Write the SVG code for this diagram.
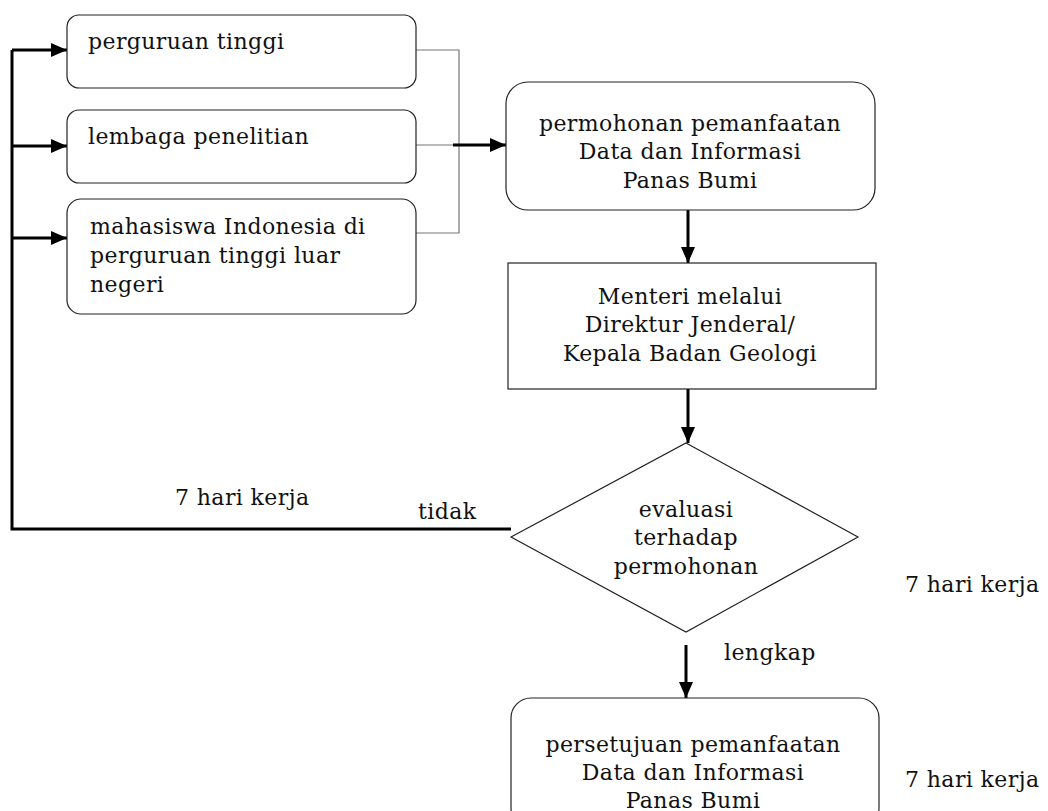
<svg xmlns="http://www.w3.org/2000/svg" width="1048" height="811" viewBox="0 0 1048 811">
<defs>
<marker id="ah" markerWidth="16" markerHeight="14" refX="16" refY="7" orient="auto" markerUnits="userSpaceOnUse">
<path d="M0,0 L16,7 L0,14 Z" fill="#000"/>
</marker>
</defs>
<style>
text{font-family:"DejaVu Serif","Liberation Serif",serif;font-size:22px;letter-spacing:0.4px;fill:#111}
.c{text-anchor:middle}
.box{fill:#fff;stroke:#222;stroke-width:1.2}
.thin{fill:none;stroke:#777;stroke-width:1.2}
.thick{fill:none;stroke:#000;stroke-width:3}
</style>
<rect width="1048" height="811" fill="#fff"/>
<g id="connectors">
<path class="thin" d="M416,50 H459 V233 H416 M416,145 H453"/>
<path class="thick" d="M453,145 H506" marker-end="url(#ah)"/>
<path class="thick" d="M688,210 V263" marker-end="url(#ah)"/>
<path class="thick" d="M688,389 V443" marker-end="url(#ah)"/>
<path class="thick" d="M686,645 V698" marker-end="url(#ah)"/>
<path class="thick" d="M511,529 H12 V50"/>
<path class="thick" d="M12,50 H67" marker-end="url(#ah)"/>
<path class="thick" d="M12,146 H67" marker-end="url(#ah)"/>
<path class="thick" d="M12,238 H67" marker-end="url(#ah)"/>
</g>
<g id="n1"><rect class="box" x="67" y="15" width="349" height="73" rx="12"/><text x="88" y="49">perguruan tinggi</text></g>
<g id="n2"><rect class="box" x="67" y="110" width="349" height="73" rx="12"/><text x="88" y="144">lembaga penelitian</text></g>
<g id="n3"><rect class="box" x="67" y="199" width="349" height="115" rx="14"/><text x="90" y="234">mahasiswa Indonesia di</text><text x="90" y="263">perguruan tinggi luar</text><text x="90" y="292">negeri</text></g>
<g id="n4"><rect class="box" x="506" y="82" width="369" height="128" rx="22"/><text class="c" x="690" y="131">permohonan pemanfaatan</text><text class="c" x="690" y="159">Data dan Informasi</text><text class="c" x="690" y="188">Panas Bumi</text></g>
<g id="n5"><rect class="box" x="508" y="263" width="368" height="126"/><text class="c" x="690" y="304">Menteri melalui</text><text class="c" x="690" y="332">Direktur Jenderal/</text><text class="c" x="690" y="361">Kepala Badan Geologi</text></g>
<g id="n6"><path class="box" d="M686,443 L858,537 L686,632 L511,537 Z"/><text class="c" x="686" y="517">evaluasi</text><text class="c" x="686" y="545">terhadap</text><text class="c" x="686" y="574">permohonan</text></g>
<g id="n7"><rect class="box" x="511" y="698" width="368" height="130" rx="20"/><text class="c" x="693" y="752">persetujuan pemanfaatan</text><text class="c" x="693" y="780">Data dan Informasi</text><text class="c" x="693" y="808">Panas Bumi</text></g>
<g id="labels">
<text x="175" y="505">7 hari kerja</text>
<text x="418" y="519">tidak</text>
<text x="724" y="660">lengkap</text>
<text x="905" y="592">7 hari kerja</text>
<text x="905" y="787">7 hari kerja</text>
</g>
</svg>
